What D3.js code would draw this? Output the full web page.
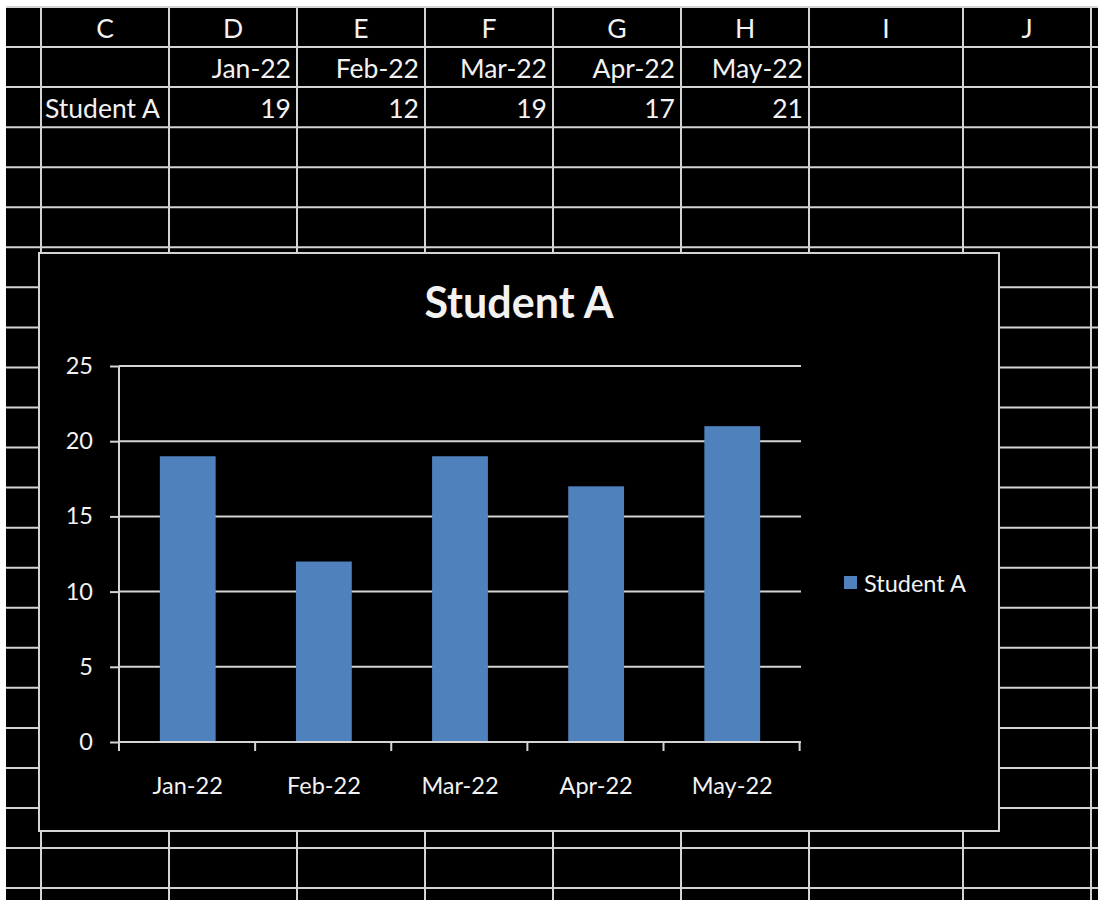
<!DOCTYPE html>
<html>
<head>
<meta charset="utf-8">
<script src="https://cdn.jsdelivr.net/npm/d3@7"></script>
<style>
  body { margin: 0; background: #000; }
  svg text { font-family: Lato, "Open Sans", sans-serif; fill: #f2f2f2; }
</style>
</head>
<body>
<svg id="sheet"></svg>
<script>
// data
var months = ["Jan-22", "Feb-22", "Mar-22", "Apr-22", "May-22"];
var seriesName = "Student A";
var scores = [19, 12, 19, 17, 21];
var yTicks = [0, 5, 10, 15, 20, 25];
var colLetters = ["C", "D", "E", "F", "G", "H", "I", "J"];

var width = 1098, height = 900;
var lineColor = "#d4d4d4";
var barColor = "#4f81bd";

var svg = d3.select("#sheet")
  .attr("width", width)
  .attr("height", height);

svg.append("rect").attr("width", width).attr("height", height).attr("fill", "#000");

// spreadsheet grid
var colWidths = [128, 128, 128, 128, 128, 128, 154, 128];
var colEdges = [41];
colWidths.forEach(function(w, i){ colEdges.push(colEdges[i] + w); });
var rowH = 40.05, gridTop = 7;
var rowY = function(n){ return gridTop + n * rowH; };
var rows = d3.range(0, 23);

var grid = svg.append("g").attr("stroke", lineColor).attr("stroke-width", 2);
grid.selectAll(".hl").data(rows).enter().append("line")
  .attr("x1", 6).attr("x2", width)
  .attr("y1", function(n){ return rowY(n); })
  .attr("y2", function(n){ return rowY(n); });
grid.selectAll(".vl").data(colEdges).enter().append("line")
  .attr("x1", function(d){ return d; }).attr("x2", function(d){ return d; })
  .attr("y1", gridTop).attr("y2", height);

// white margins of the window
svg.append("rect").attr("width", width).attr("height", gridTop - 1).attr("fill", "#fff");
svg.append("rect").attr("width", 6).attr("height", height).attr("fill", "#fff");

var cellFont = 26.5;
var cells = svg.append("g").attr("font-size", cellFont);

// column header letters
cells.selectAll(".hdr").data(colLetters).enter().append("text")
  .attr("x", function(d, i){ return (colEdges[i] + colEdges[i + 1]) / 2; })
  .attr("y", rowY(1) - 9)
  .attr("text-anchor", "middle")
  .text(function(d){ return d; });

// date row and value row
cells.selectAll(".mon").data(months).enter().append("text")
  .attr("x", function(d, i){ return colEdges[i + 2] - 6; })
  .attr("y", rowY(2) - 9)
  .attr("text-anchor", "end")
  .text(function(d){ return d; });

cells.append("text")
  .attr("x", colEdges[0] + 4)
  .attr("y", rowY(3) - 9)
  .text(seriesName);

cells.selectAll(".val").data(scores).enter().append("text")
  .attr("x", function(d, i){ return colEdges[i + 2] - 6; })
  .attr("y", rowY(3) - 9)
  .attr("text-anchor", "end")
  .text(function(d){ return d; });

// chart object
var chart = { x: 39, y: 253, w: 960, h: 578 };
svg.append("rect")
  .attr("x", chart.x).attr("y", chart.y)
  .attr("width", chart.w).attr("height", chart.h)
  .attr("fill", "#000")
  .attr("stroke", lineColor).attr("stroke-width", 2);

svg.append("text")
  .attr("x", chart.x + chart.w / 2)
  .attr("y", 318)
  .attr("text-anchor", "middle")
  .attr("font-size", 43)
  .attr("font-weight", "bold")
  .text(seriesName);

var plot = { left: 119, right: 801, top: 366, bottom: 742 };

var xscale = d3.scaleBand()
  .domain(months)
  .range([plot.left, plot.right])
  .paddingInner(0.59)
  .paddingOuter(0.3);

var yscale = d3.scaleLinear()
  .domain([0, 25])
  .range([plot.bottom, plot.top]);

// gridlines
svg.append("g").attr("stroke", lineColor).attr("stroke-width", 2)
  .selectAll("line").data(yTicks.filter(function(t){ return t > 0; })).enter().append("line")
  .attr("x1", plot.left).attr("x2", plot.right)
  .attr("y1", function(d){ return yscale(d); })
  .attr("y2", function(d){ return yscale(d); });

// bars
svg.append("g").selectAll("rect").data(scores).enter().append("rect")
  .attr("x", function(d, i){ return xscale(months[i]); })
  .attr("y", function(d){ return yscale(d); })
  .attr("width", xscale.bandwidth())
  .attr("height", function(d){ return yscale(0) - yscale(d); })
  .attr("fill", barColor);

// y axis
var yaxis = d3.axisLeft(yscale).tickValues(yTicks).tickSize(9).tickPadding(17);
var yg = svg.append("g")
  .attr("transform", "translate(" + plot.left + ",0)")
  .call(yaxis);
yg.select(".domain").remove();
yg.append("line").attr("x1", 0).attr("x2", 0)
  .attr("y1", plot.top).attr("y2", plot.bottom);

// x axis, ticks at category boundaries
var bounds = d3.range(months.length + 1).map(function(i){
  return plot.left + i * xscale.step();
});
var xg = svg.append("g");
xg.append("line")
  .attr("x1", plot.left).attr("x2", plot.right)
  .attr("y1", plot.bottom).attr("y2", plot.bottom);
xg.selectAll(".tk").data(bounds).enter().append("line")
  .attr("x1", function(d){ return d; }).attr("x2", function(d){ return d; })
  .attr("y1", plot.bottom).attr("y2", plot.bottom + 9);
xg.selectAll("text").data(months).enter().append("text")
  .attr("x", function(d){ return xscale(d) + xscale.bandwidth() / 2; })
  .attr("y", 794)
  .attr("text-anchor", "middle")
  .attr("font-size", 23.5)
  .text(function(d){ return d; });

[yg, xg].forEach(function(g){
  g.selectAll("line").attr("stroke", lineColor).attr("stroke-width", 2);
});
yg.selectAll("text").attr("font-size", 23.5).attr("font-family", "Lato, sans-serif").attr("fill", "#f2f2f2");

// legend
var legend = svg.append("g").attr("transform", "translate(844,576)");
legend.append("rect").attr("width", 13).attr("height", 13).attr("fill", barColor);
legend.append("text")
  .attr("x", 20).attr("y", 16)
  .attr("font-size", 23.5)
  .text(seriesName);
</script>
</body>
</html>
